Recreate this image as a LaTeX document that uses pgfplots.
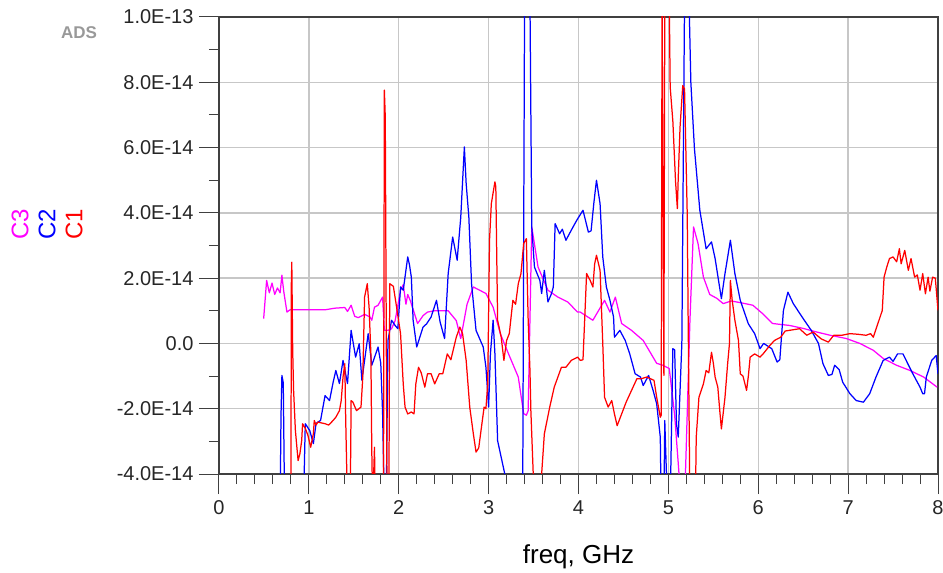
\documentclass[border=0pt]{standalone}
\usepackage{pgfplots}
\pgfplotsset{compat=1.18}
\usepackage{fontspec}
\setmainfont{Liberation Sans}
\definecolor{cmag}{RGB}{255,0,255}
\definecolor{cblue}{RGB}{0,0,255}
\definecolor{cred}{RGB}{255,0,0}
\begin{document}
\begin{tikzpicture}
\useasboundingbox (-219bp,-99bp) rectangle (724bp,474bp);
\begin{axis}[
  at={(0,0)}, anchor=south west,
  scale only axis, width=719bp, height=457bp,
  xmin=0, xmax=8, ymin=-4, ymax=10,
  xtick={0,1,2,3,4,5,6,7,8}, xticklabels={0,1,2,3,4,5,6,7,8},
  ytick={-4,-2,0,2,4,6,8,10},
  yticklabels={-4.0E-14,-2.0E-14,0.0,2.0E-14,4.0E-14,6.0E-14,8.0E-14,1.0E-13},
  minor x tick num=4, minor y tick num=1,
  tick align=outside, xtick pos=left, ytick pos=left,
  major tick length=20bp, minor tick length=10bp,
  every tick/.append style={black!75, line width=1pt},
  grid=major, major grid style={black!22, line width=1.5pt},
  axis line style={black!75, line width=1.5pt},
  ticklabel style={font=\fontsize{20bp}{24bp}\selectfont, text=black!85},
  xticklabel style={yshift=-3bp},
  yticklabel style={xshift=-2bp},
  every axis plot/.append style={line width=1.25pt, line join=round},
]
% C3
\addplot[cmag] coordinates {
(0.497,0.76)(0.53,1.93)(0.56,1.55)(0.59,1.85)(0.62,1.5)(0.65,1.7)(0.68,1.55)(0.70,2.09)(0.72,1.6)(0.756,0.96)
(0.79,1.03)(0.9,1.03)(1.0,1.03)(1.18,1.03)(1.29,1.08)(1.40,1.10)(1.43,0.98)(1.47,1.17)(1.51,0.83)(1.55,0.79)
(1.62,0.89)(1.68,0.81)(1.70,0.71)(1.73,1.11)(1.77,1.17)(1.82,1.42)(1.84,0.40)(1.88,0.40)(1.92,0.45)(1.96,0.7)
(2.02,1.63)(2.05,1.8)(2.08,1.2)(2.10,1.5)(2.13,1.3)(2.21,0.61)(2.27,0.85)(2.32,0.96)(2.40,1.0)(2.50,1.0)
(2.55,1.0)(2.64,0.70)(2.69,0.15)(2.76,1.2)(2.83,1.73)(2.97,1.53)(3.05,1.11)(3.13,0.3)(3.22,-0.31)(3.33,-1.03)
(3.39,-2.15)(3.42,-2.2)(3.44,-2.06)(3.48,3.57)(3.55,2.34)(3.66,1.63)(3.77,1.42)(3.88,1.27)(3.99,0.96)(4.02,0.96)
(4.16,0.71)(4.29,1.32)(4.35,0.96)(4.41,1.42)(4.48,0.61)(4.59,0.40)(4.72,0.09)(4.87,-0.61)(4.94,-0.67)(5.01,-0.77)
(5.07,-2.2)(5.12,-4.05)(5.15,-5)(5.19,-4.0)(5.24,0.71)(5.28,3.57)(5.33,3.06)(5.39,2.03)(5.46,1.5)(5.54,1.38)
(5.61,1.22)(5.70,1.3)(5.80,1.25)(5.94,1.17)(6.05,0.91)(6.16,0.61)(6.35,0.55)(6.50,0.46)(6.65,0.35)(6.80,0.25)
(6.98,0.15)(7.13,0.0)(7.28,-0.21)(7.39,-0.46)(7.54,-0.67)(7.69,-0.83)(7.84,-1.03)(7.99,-1.34)
};
% C2
\addplot[cblue] coordinates {
(0.68,-5)(0.69,-2.2)(0.70,-0.98)(0.715,-1.2)(0.73,-5)(0.94,-5)(0.96,-2.46)(1.01,-2.67)(1.05,-3.07)(1.08,-2.45)
(1.13,-2.36)(1.18,-1.60)(1.23,-1.75)(1.27,-1.19)(1.30,-0.83)(1.34,-1.23)(1.38,-0.52)(1.43,-1.23)(1.47,0.40)(1.52,-0.42)
(1.56,-0.01)(1.59,-1.13)(1.66,0.30)(1.70,-0.67)(1.77,-0.11)(1.80,-0.61)(1.82,-2.1)(1.84,-5)(1.86,-5)(1.88,0.09)
(1.92,0.71)(1.96,0.55)(1.99,0.45)(2.02,1.73)(2.05,1.63)(2.10,2.65)(2.12,2.4)(2.14,2.03)(2.16,0.71)(2.20,-0.11)
(2.27,0.50)(2.31,0.60)(2.36,0.81)(2.42,1.32)(2.46,0.66)(2.51,0.15)(2.55,2.14)(2.60,3.26)(2.65,2.55)(2.69,3.87)
(2.73,6.02)(2.75,4.9)(2.78,3.87)(2.81,1.83)(2.86,0.4)(2.94,-0.11)(2.97,-0.73)(3.00,-1.95)(3.02,-0.32)(3.05,0.71)
(3.07,-0.32)(3.10,-2.98)(3.18,-4.0)(3.22,-5)(3.36,-5)(3.38,-4)(3.40,10.5)(3.46,10.5)(3.48,3.57)(3.51,2.34)
(3.57,1.93)(3.59,1.53)(3.62,2.24)(3.66,1.27)(3.70,1.53)(3.72,1.73)(3.74,3.67)(3.79,3.36)(3.82,3.5)(3.86,3.16)
(3.92,3.47)(3.98,3.77)(4.05,4.08)(4.11,3.41)(4.14,3.45)(4.17,4.28)(4.20,5.0)(4.24,4.28)(4.27,2.65)(4.31,1.73)
(4.35,1.32)(4.39,0.81)(4.40,0.19)(4.46,0.4)(4.52,0.09)(4.57,-0.32)(4.63,-0.93)(4.69,-1.03)(4.72,-1.29)(4.78,-0.98)
(4.83,-1.44)(4.87,-1.85)(4.91,-2.87)(4.92,-5)(4.95,-5)(4.96,-2.36)(4.99,-5)(5.02,-5)(5.05,-0.16)(5.07,-0.2)
(5.09,-2.46)(5.11,-2.87)(5.15,0.0)(5.18,10.5)(5.23,10.5)(5.25,8.0)(5.29,5.97)(5.35,4.08)(5.42,2.9)(5.48,3.11)
(5.52,2.6)(5.59,1.37)(5.63,2.14)(5.69,3.16)(5.74,2.14)(5.80,1.32)(5.89,0.60)(5.96,0.30)(6.02,-0.16)(6.06,0.0)
(6.15,-0.16)(6.21,-0.57)(6.24,-0.5)(6.28,1.01)(6.33,1.57)(6.39,1.22)(6.44,1.01)(6.50,0.76)(6.59,0.4)(6.67,0.0)
(6.72,-0.62)(6.78,-0.98)(6.82,-0.95)(6.85,-0.67)(6.90,-0.8)(6.94,-1.19)(7.02,-1.54)(7.09,-1.75)(7.17,-1.80)(7.24,-1.54)
(7.31,-1.03)(7.39,-0.52)(7.46,-0.42)(7.50,-0.55)(7.55,-0.32)(7.61,-0.32)(7.66,-0.6)(7.72,-0.93)(7.80,-1.34)(7.83,-1.54)
(7.85,-1.54)(7.87,-1.03)(7.93,-0.52)(7.98,-0.37)(8.0,-0.93)
};
% C1
\addplot[cred] coordinates {
(0.80,-5)(0.805,1.83)(0.81,2.49)(0.82,-0.21)(0.83,-1.44)(0.85,-2.67)(0.88,-3.59)(0.90,-3.38)(0.92,-2.98)(0.93,-2.46)
(0.96,-2.6)(0.99,-2.82)(1.02,-3.18)(1.05,-2.77)(1.06,-2.36)(1.08,-2.5)(1.10,-2.41)(1.18,-2.46)(1.22,-2.5)(1.27,-2.36)
(1.30,-2.26)(1.34,-2.06)(1.36,-1.75)(1.38,-1.03)(1.40,-0.62)(1.41,-2.36)(1.42,-3.69)(1.43,-5)(1.46,-5)(1.47,-1.75)
(1.49,-1.8)(1.53,-2.06)(1.58,-1.95)(1.60,-1.03)(1.62,1.42)(1.65,1.83)(1.67,1.11)(1.69,-0.32)(1.70,-3.28)(1.71,-5)
(1.73,-3.18)(1.74,-5)(1.83,-5)(1.84,7.76)(1.85,6.94)(1.87,-5)(1.89,-5)(1.90,1.83)(1.94,1.75)(1.97,1.22)
(2.02,0.30)(2.05,-1.24)(2.07,-1.95)(2.10,-2.16)(2.14,-2.1)(2.17,-2.16)(2.19,-1.24)(2.22,-0.73)(2.25,-0.9)(2.29,-1.34)
(2.32,-0.93)(2.36,-0.93)(2.40,-1.24)(2.45,-0.93)(2.49,-0.93)(2.54,-0.32)(2.58,-0.5)(2.64,0.19)(2.68,0.5)(2.71,0.30)
(2.75,-0.52)(2.79,-1.95)(2.83,-2.77)(2.86,-3.33)(2.89,-3.2)(2.92,-2.57)(2.95,-1.95)(2.97,-2.0)(2.99,-1.24)(3.01,3.16)
(3.03,4.28)(3.07,4.95)(3.08,4.8)(3.10,0.71)(3.14,0.19)(3.17,-0.52)(3.20,0.09)(3.23,0.30)(3.27,1.32)(3.30,1.2)
(3.33,1.83)(3.36,2.14)(3.39,3.06)(3.42,3.21)(3.44,0.71)(3.46,-0.83)(3.47,-2.06)(3.51,-5)(3.58,-5)(3.59,-4)
(3.62,-2.77)(3.68,-1.95)(3.73,-1.34)(3.81,-0.73)(3.86,-0.73)(3.92,-0.52)(3.99,-0.42)(4.02,-0.52)(4.05,-0.5)(4.07,0.81)
(4.09,2.14)(4.13,1.93)(4.16,1.73)(4.18,2.44)(4.20,2.70)(4.24,2.24)(4.27,0.0)(4.29,-1.65)(4.33,-1.95)(4.37,-1.75)
(4.40,-2.16)(4.43,-2.52)(4.48,-2.16)(4.53,-1.80)(4.59,-1.44)(4.65,-1.08)(4.70,-1.08)(4.76,-1.03)(4.84,-1.13)(4.87,-1.65)
(4.91,-2.26)(4.92,-2.2)(4.93,10.5)(4.95,-0.98)(4.96,10.5)(5.01,10.5)(5.02,7.86)(5.05,6.8)(5.08,4.95)(5.10,4.13)
(5.11,5.10)(5.13,6.63)(5.16,7.9)(5.18,7.8)(5.21,3.93)(5.22,0.76)(5.24,-5)(5.30,-5)(5.31,-2.87)(5.34,-1.65)
(5.39,-1.24)(5.42,-0.83)(5.45,-0.9)(5.48,-0.27)(5.50,-0.6)(5.52,-1.03)(5.55,-1.34)(5.57,-2.0)(5.59,-2.62)(5.63,-1.65)
(5.66,-0.6)(5.68,0.0)(5.69,1.93)(5.71,1.32)(5.74,0.71)(5.78,0.09)(5.80,-0.93)(5.83,-1.0)(5.87,-1.44)(5.89,-1.0)
(5.91,-0.42)(5.96,-0.32)(6.02,-0.42)(6.06,-0.3)(6.13,-0.06)(6.18,0.09)(6.25,0.19)(6.30,0.38)(6.39,0.42)(6.46,0.45)
(6.54,0.25)(6.61,0.35)(6.70,0.14)(6.78,0.04)(6.84,0.25)(6.93,0.25)(7.02,0.30)(7.11,0.28)(7.20,0.25)(7.25,0.30)
(7.28,0.19)(7.33,0.60)(7.38,1.01)(7.40,2.03)(7.43,2.34)(7.46,2.60)(7.50,2.65)(7.54,2.5)(7.57,2.90)(7.59,2.44)
(7.63,2.85)(7.67,2.24)(7.70,2.60)(7.74,2.03)(7.77,2.1)(7.80,1.63)(7.83,2.14)(7.86,1.52)(7.89,2.03)(7.91,1.6)
(7.94,2.03)(7.97,2.0)(8.0,1.01)
};
\end{axis}
\node[rotate=90, text=cmag, font=\fontsize{24bp}{26bp}\selectfont] at (-199bp,250bp) {C3};
\node[rotate=90, text=cblue, font=\fontsize{24bp}{26bp}\selectfont] at (-172bp,250bp) {C2};
\node[rotate=90, text=cred, font=\fontsize{24bp}{26bp}\selectfont] at (-145bp,250bp) {C1};
\node[anchor=base, font=\fontsize{26bp}{30bp}\selectfont] at (359.5bp,-89bp) {freq, GHz};
\node[text=black!40, font=\fontsize{17bp}{20bp}\selectfont\bfseries] at (-140bp,441bp) {ADS};
\end{tikzpicture}
\end{document}
